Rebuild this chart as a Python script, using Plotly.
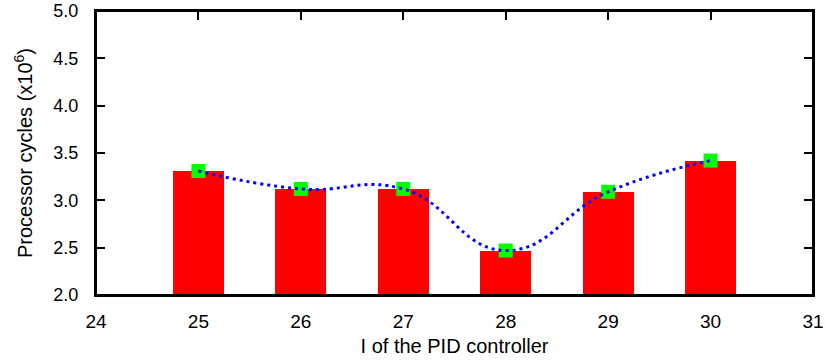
import plotly.graph_objects as go

# PID integral gain settings and measured processor cycles (millions)
gain_i = [25, 26, 27, 28, 29, 30]
cycles = [3.31, 3.12, 3.12, 2.47, 3.09, 3.42]

x_ticks = [24, 25, 26, 27, 28, 29, 30, 31]
y_ticks = [2.0, 2.5, 3.0, 3.5, 4.0, 4.5, 5.0]

FONT = "Liberation Sans, Arial, Helvetica, sans-serif"

fig = go.Figure()

fig.add_trace(go.Bar(
    x=gain_i, y=cycles, base=0,
    width=0.5,
    marker=dict(color="#ff0000", line=dict(width=0)),
    showlegend=False,
))

fig.add_trace(go.Scatter(
    x=gain_i, y=cycles,
    mode="markers",
    marker=dict(symbol="square", size=14, color="#00ff00", line=dict(width=0)),
    showlegend=False,
))

fig.add_trace(go.Scatter(
    x=gain_i, y=cycles,
    mode="lines",
    line=dict(color="#0000ff", width=3, dash="3px,4px", shape="spline", smoothing=1.3),
    showlegend=False,
))

axis_common = dict(
    showgrid=False,
    zeroline=False,
    showline=True,
    linecolor="black",
    linewidth=2,
    ticks="inside",
    ticklen=9,
    tickwidth=1.5,
    tickcolor="black",
    mirror="ticks",
    layer="below traces",
)

fig.update_xaxes(
    range=[24, 31],
    tickvals=x_ticks,
    ticktext=[str(v) for v in x_ticks],
    tickfont=dict(family=FONT, size=19, color="black"),
    ticklabelstandoff=8,
    title=dict(text="I of the PID controller",
               font=dict(family=FONT, size=20, color="black"),
               standoff=8),
    **axis_common,
)

fig.update_yaxes(
    range=[2, 5],
    tickvals=y_ticks,
    ticktext=[f"{v:.1f}" for v in y_ticks],
    tickfont=dict(family=FONT, size=18, color="black"),
    ticklabelstandoff=12,
    title=dict(text="Processor cycles (x10<sup>6</sup>)",
               font=dict(family=FONT, size=20, color="black"),
               standoff=15),
    **axis_common,
)

# frame around the plotting area
fig.add_shape(type="rect", xref="paper", yref="paper", x0=0, y0=0, x1=1, y1=1,
              line=dict(color="black", width=2), layer="above")

fig.update_layout(
    width=826, height=362,
    margin=dict(l=96, r=13, t=11, b=67, autoexpand=False),
    plot_bgcolor="white",
    paper_bgcolor="white",
    bargap=0,
)

fig.write_html("out.html")
